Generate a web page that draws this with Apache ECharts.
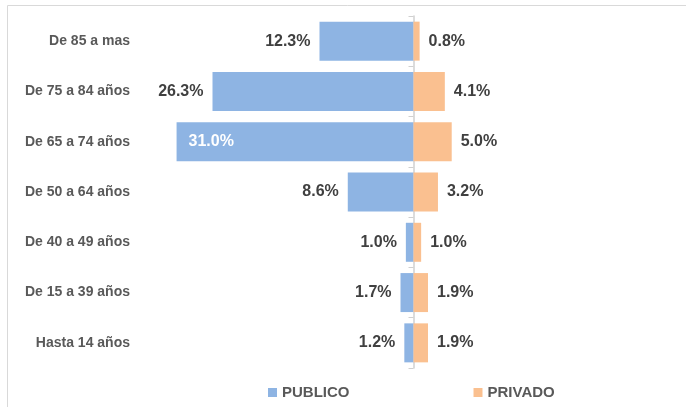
<!DOCTYPE html>
<html>
<head>
<meta charset="utf-8">
<script src="https://cdn.jsdelivr.net/npm/echarts@6/dist/echarts.min.js"></script>
<style>
  html, body { margin: 0; padding: 0; background: #fff; }
  #chart { width: 686px; height: 407px; }
</style>
</head>
<body>
<div id="chart"></div>
<script>
// age groups, top to bottom
var categories = ['De 85 a mas', 'De 75 a 84 años', 'De 65 a 74 años', 'De 50 a 64 años',
  'De 40 a 49 años', 'De 15 a 39 años', 'Hasta 14 años']
var publico = [12.3, 26.3, 31.0, 8.6, 1.0, 1.7, 1.2]
var privado = [0.8, 4.1, 5.0, 3.2, 1.0, 1.9, 1.9]

var font = 'Liberation Sans'
var maxPub = Math.max.apply(null, publico)

var labelBase = {
  show: true,
  fontFamily: font,
  fontSize: 16,
  fontWeight: 'bold',
  color: '#404040',
  distance: 9,
  formatter: function (p) {
    return Math.abs(p.value).toFixed(1) + '%'
  }
}

// publico drawn to the left of zero
var publicoData = publico.map(function (v) {
  var item = { value: -v }
  if (v === maxPub) {
    item.label = { position: 'insideLeft', color: '#fff', distance: 12 }
  }
  return item
})

var chart = echarts.init(document.getElementById('chart'))
chart.setOption({
  animation: false,
  graphic: [{
    type: 'rect',
    shape: { x: 7.5, y: 5.5, width: 700, height: 420 },
    style: { fill: 'none', stroke: '#D9D9D9', lineWidth: 1 },
    silent: true
  }],
  grid: { left: 146, right: 5, top: 16, bottom: 39 },
  legend: {
    bottom: 2,
    left: 263,
    itemWidth: 9,
    itemHeight: 9,
    itemGap: 124,
    icon: 'rect',
    textStyle: { fontFamily: font, fontSize: 15, fontWeight: 'bold', color: '#595959' },
    data: ['PUBLICO', 'PRIVADO']
  },
  xAxis: {
    type: 'value',
    min: -35,
    max: 35,
    axisLabel: { show: false },
    axisLine: { show: false },
    axisTick: { show: false },
    splitLine: { show: false }
  },
  yAxis: [{
    type: 'category',
    data: categories,
    inverse: true,
    position: 'left',
    axisLine: { show: false, onZero: false },
    axisTick: { show: false },
    axisLabel: { fontFamily: font, fontSize: 14, fontWeight: 'bold', color: '#595959', margin: 16 }
  }, {
    type: 'category',
    data: categories,
    inverse: true,
    position: 'left',
    axisLine: { show: true, onZero: true, lineStyle: { color: '#D0D0D0', width: 1.5 } },
    axisTick: { show: true, length: 5, lineStyle: { color: '#D0D0D0' } },
    axisLabel: { show: false }
  }],
  series: [{
    name: 'PUBLICO',
    type: 'bar',
    stack: 'total',
    barWidth: 39,
    itemStyle: { color: '#8EB4E3' },
    label: Object.assign({}, labelBase, { position: 'left' }),
    data: publicoData
  }, {
    name: 'PRIVADO',
    type: 'bar',
    stack: 'total',
    barWidth: 39,
    itemStyle: { color: '#FAC090' },
    label: Object.assign({}, labelBase, { position: 'right' }),
    data: privado
  }]
})
</script>
</body>
</html>
